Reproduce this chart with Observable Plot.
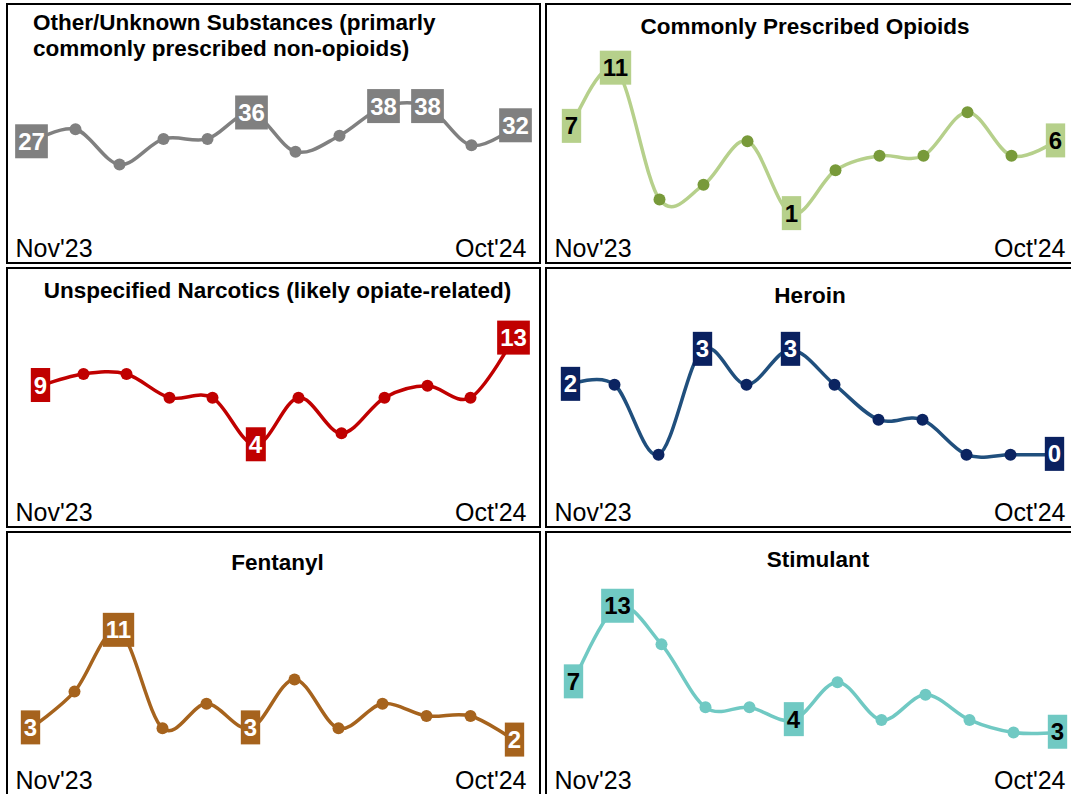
<!DOCTYPE html>
<html><head><meta charset="utf-8">
<script src="https://cdn.jsdelivr.net/npm/d3@7"></script>
<script src="https://cdn.jsdelivr.net/npm/@observablehq/plot@0.6"></script>
<style>
body{margin:0;width:1071px;height:794px;overflow:hidden;background:#fff;font-family:"Liberation Sans",Arial,sans-serif;position:relative;}
.frame{position:absolute;border:2px solid #000;box-sizing:border-box;}
.plot{position:absolute;}
.title{position:absolute;font-weight:bold;font-size:22.5px;line-height:26px;color:#000;white-space:pre;font-family:"Liberation Sans",Arial,sans-serif;}
</style></head><body>
<script>
// ---- data ----
const months = ["Nov'23","Dec'23","Jan'24","Feb'24","Mar'24","Apr'24","May'24","Jun'24","Jul'24","Aug'24","Sep'24","Oct'24"];
const tickLabels = ["Nov'23","Oct'24"];
const otherUnknown = [27,31,20,28,28,36,24,29,38,38,26,32];
const prescribedOpioids = [7,11,2,3,6,1,4,5,5,8,5,6];
const unspecifiedNarcotics = [9,10,10,8,8,4,8,5,8,9,8,13];
const heroin = [2,2,0,3,2,3,2,1,1,0,0,0];
const fentanyl = [3,6,11,3,5,3,7,3,5,4,4,2];
const stimulant = [7,13,10,5,5,4,7,4,6,4,3,3];
const titles = [
  "Other/Unknown Substances (primarly\ncommonly prescribed non-opioids)",
  "Commonly Prescribed Opioids",
  "Unspecified Narcotics (likely opiate-related)",
  "Heroin",
  "Fentanyl",
  "Stimulant"
];

// ---- layout / style config ----
const colX = [7, 546], rowY = [4, 268, 532], rowH = [262, 262, 275];
const panels = [
  {values: otherUnknown, col:0, row:0, line:"#808080", dot:"#808080", box:"#808080", txt:"#fff", yDomain:[0,50], xRange:[21,510], tl:{left:26, top:6}},
  {values: prescribedOpioids, col:1, row:0, line:"#b6d08b", dot:"#789a3a", box:"#b6d08b", txt:"#000", yDomain:[0,11], xRange:[22,511], tl:{cx:259, cy:23}},
  {values: unspecifiedNarcotics, col:0, row:1, line:"#c00000", dot:"#c00000", box:"#c00000", txt:"#fff", yDomain:[0,13.5], xRange:[28,510], tl:{cx:270.5, cy:23}},
  {values: heroin, col:1, row:1, line:"#204f7d", dot:"#0b2461", box:"#0a2160", txt:"#fff", yDomain:[-1.08,3.49], xRange:[23,509], tl:{cx:264, cy:28}},
  {values: fentanyl, col:0, row:2, line:"#a6631d", dot:"#a6631d", box:"#a6631d", txt:"#fff", yDomain:[0.68,13.8], xRange:[21,508], tl:{cx:270.5, cy:31}},
  {values: stimulant, col:1, row:2, line:"#70c9c3", dot:"#70c9c3", box:"#70c9c3", txt:"#000", yDomain:[1.1,13.8], xRange:[24,513], tl:{cx:272, cy:28}}
];

panels.forEach((p, k) => {
  const L = colX[p.col], T = rowY[p.row], H = rowH[p.row], W = 535;
  const data = p.values.map((v, i) => ({month: months[i], i, v}));
  const max = d3.max(p.values);
  const lab = data.filter(d => d.i === 0 || d.i === 5 || d.i === data.length - 1 || d.v === max);
  const yc = p.row === 2 ? 248 : 244;

  const svg = Plot.plot({
    width: W, height: H,
    marginLeft: 8, marginRight: 16, marginTop: 64, marginBottom: H - yc,
    x: {type: "point", domain: months, range: p.xRange, padding: 0, axis: null},
    y: {domain: p.yDomain, range: [224, 64], axis: null},
    style: {background: "transparent", overflow: "visible", fontFamily: "Liberation Sans, Arial, sans-serif"},
    marks: [
      Plot.line(data, {x: "month", y: "v", stroke: p.line, strokeWidth: 3.5, curve: "cardinal"}),
      Plot.dot(data, {x: "month", y: "v", r: 6, fill: p.dot}),
      Plot.text(lab, {x: "month", y: "v", text: d => String(d.v), fill: p.txt, fontSize: 24, fontWeight: "bold"}),
      Plot.text([tickLabels[0]], {frameAnchor: "bottom-left", textAnchor: "start", lineAnchor: "middle", text: d => d, fontSize: 25, fill: "#000"}),
      Plot.text([tickLabels[1]], {frameAnchor: "bottom-right", textAnchor: "end", lineAnchor: "middle", text: d => d, fontSize: 25, fill: "#000"})
    ]
  });
  svg.classList.add("plot");
  svg.style.left = L + "px";
  svg.style.top = T + "px";
  document.body.appendChild(svg);

  // boxes behind value labels (first text mark = value labels)
  const labelGroup = svg.querySelectorAll('g[aria-label="text"]')[0];
  if (labelGroup) {
    labelGroup.querySelectorAll("text").forEach(t => {
      const b = t.getBBox();
      const r = document.createElementNS("http://www.w3.org/2000/svg", "rect");
      r.setAttribute("x", b.x - 3);
      r.setAttribute("y", b.y - 3.5);
      r.setAttribute("width", b.width + 6);
      r.setAttribute("height", b.height + 7);
      const tr = t.getAttribute("transform");
      if (tr) r.setAttribute("transform", tr);
      r.setAttribute("fill", p.box);
      r.setAttribute("stroke", "none");
      t.parentNode.insertBefore(r, t);
    });
  }

  const fr = document.createElement("div");
  fr.className = "frame";
  fr.style.left = (L - 1) + "px";
  fr.style.top = (T - 1) + "px";
  fr.style.width = W + "px";
  fr.style.height = (H - 1) + "px";
  document.body.appendChild(fr);

  const ti = document.createElement("div");
  ti.className = "title";
  ti.textContent = titles[k];
  if (p.tl.left !== undefined) {
    ti.style.left = (L + p.tl.left) + "px";
    ti.style.top = (T + p.tl.top) + "px";
  } else {
    ti.style.left = (L + p.tl.cx) + "px";
    ti.style.top = (T + p.tl.cy - 13) + "px";
    ti.style.transform = "translateX(-50%)";
  }
  document.body.appendChild(ti);
});
</script>
</body></html>
